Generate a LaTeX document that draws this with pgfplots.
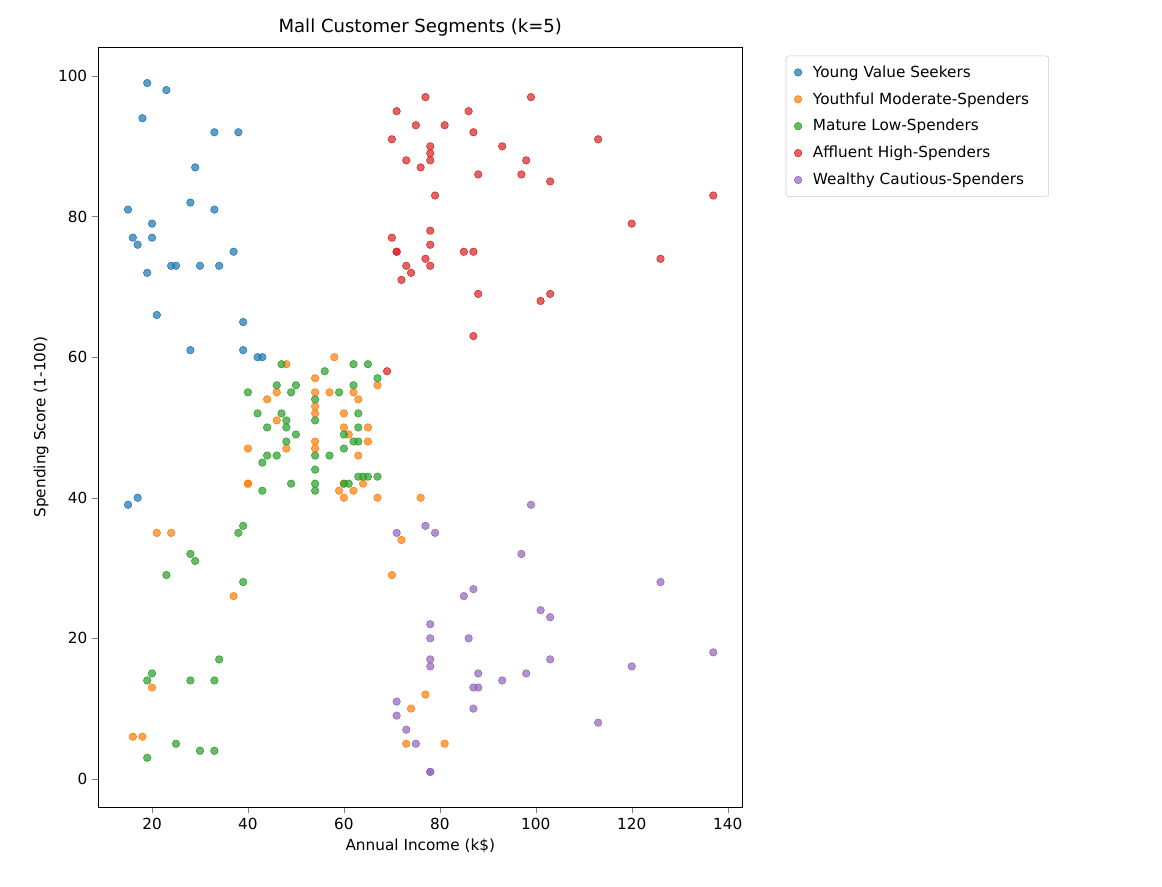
\documentclass[border=0pt]{standalone}
\usepackage{pgfplots}
\pgfplotsset{compat=1.18}
\usepackage{fontspec}
\setmainfont{DejaVu Sans}
\definecolor{cb}{HTML}{1F77B4}
\definecolor{co}{HTML}{FF7F0E}
\definecolor{cg}{HTML}{2CA02C}
\definecolor{cr}{HTML}{D62728}
\definecolor{cp}{HTML}{9467BD}
\begin{document}
\begin{tikzpicture}
\begin{axis}[name=ax, scale only axis, width=464pt, height=547pt,
 xmin=8.75, xmax=143.1, ymin=-4, ymax=104.1,
 xtick={20,40,...,140}, ytick={0,20,...,100},
 tick align=outside, xtick pos=bottom, ytick pos=left,
 /pgf/number format/assume math mode=true,
 tick label style={font=\fontsize{11}{13}\selectfont},
 label style={font=\fontsize{11}{13}\selectfont},
 title={Mall Customer Segments (k=5)}, title style={font=\fontsize{13}{15}\selectfont, yshift=-2pt},
 xlabel={Annual Income (k\$)}, ylabel={Spending Score (1-100)},
 legend style={at={(1.067,0.989)}, anchor=north west, draw=black!20, rounded corners=2pt, font=\fontsize{11}{13}\selectfont, row sep=5.5pt, inner xsep=6pt, inner ysep=5pt, nodes={inner xsep=8pt}},
 legend cell align=left,
 every axis plot/.append style={only marks, mark=*, mark size=2.7pt, mark options={draw=white, line width=0.4pt}, fill opacity=0.72},
]
\addplot[cb, mark options={fill=cb}] coordinates {(15,39)(15,81)(16,77)(17,40)(17,76)(18,94)(19,72)(19,99)(20,77)(20,79)(21,66)(23,98)(24,73)(25,73)(28,82)(28,61)(29,87)(30,73)(33,92)(33,81)(34,73)(37,75)(38,92)(39,65)(39,61)(42,60)(43,60)};
\addlegendentry{Young Value Seekers}
\addplot[co, mark options={fill=co}] coordinates {(16,6)(18,6)(20,13)(21,35)(24,35)(37,26)(40,47)(40,42)(40,42)(44,54)(46,51)(46,55)(48,59)(48,47)(54,57)(54,55)(54,53)(54,52)(54,48)(54,47)(57,55)(58,60)(59,41)(60,40)(60,42)(60,52)(60,50)(61,49)(62,41)(62,55)(63,54)(63,46)(64,42)(65,48)(65,50)(67,56)(67,40)(70,29)(72,34)(73,5)(74,10)(76,40)(77,12)(81,5)};
\addlegendentry{Youthful Moderate-Spenders}
\addplot[cg, mark options={fill=cg}] coordinates {(19,3)(19,14)(20,15)(23,29)(25,5)(28,14)(28,32)(29,31)(30,4)(33,4)(33,14)(34,17)(38,35)(39,36)(39,28)(40,55)(42,52)(43,45)(43,41)(44,50)(44,46)(46,46)(46,56)(47,52)(47,59)(48,51)(48,50)(48,48)(49,55)(49,42)(50,56)(50,49)(54,54)(54,51)(54,46)(54,44)(54,42)(54,41)(56,58)(57,46)(59,55)(60,49)(60,47)(60,42)(61,42)(62,59)(62,56)(62,48)(63,52)(63,50)(63,48)(63,43)(64,43)(65,59)(65,43)(67,43)(67,57)};
\addlegendentry{Mature Low-Spenders}
\addplot[cr, mark options={fill=cr}] coordinates {(69,58)(70,91)(70,77)(71,95)(71,75)(71,75)(72,71)(73,73)(73,88)(74,72)(75,93)(76,87)(77,97)(77,74)(78,90)(78,89)(78,88)(78,78)(78,76)(78,73)(79,83)(81,93)(85,75)(86,95)(87,92)(87,75)(87,63)(88,86)(88,69)(93,90)(97,86)(98,88)(99,97)(101,68)(103,85)(103,69)(113,91)(120,79)(126,74)(137,83)};
\addlegendentry{Affluent High-Spenders}
\addplot[cp, mark options={fill=cp}] coordinates {(71,35)(71,11)(71,9)(73,7)(75,5)(77,36)(78,22)(78,20)(78,17)(78,16)(78,1)(78,1)(79,35)(85,26)(86,20)(87,27)(87,13)(87,10)(88,15)(88,13)(93,14)(97,32)(98,15)(99,39)(101,24)(103,23)(103,17)(113,8)(120,16)(126,28)(137,18)};
\addlegendentry{Wealthy Cautious-Spenders}
\end{axis}
\useasboundingbox ([shift={(-70.6pt,-56.9pt)}]ax.south west) rectangle ([shift={(766.0pt,581pt)}]ax.south west);
\end{tikzpicture}
\end{document}
